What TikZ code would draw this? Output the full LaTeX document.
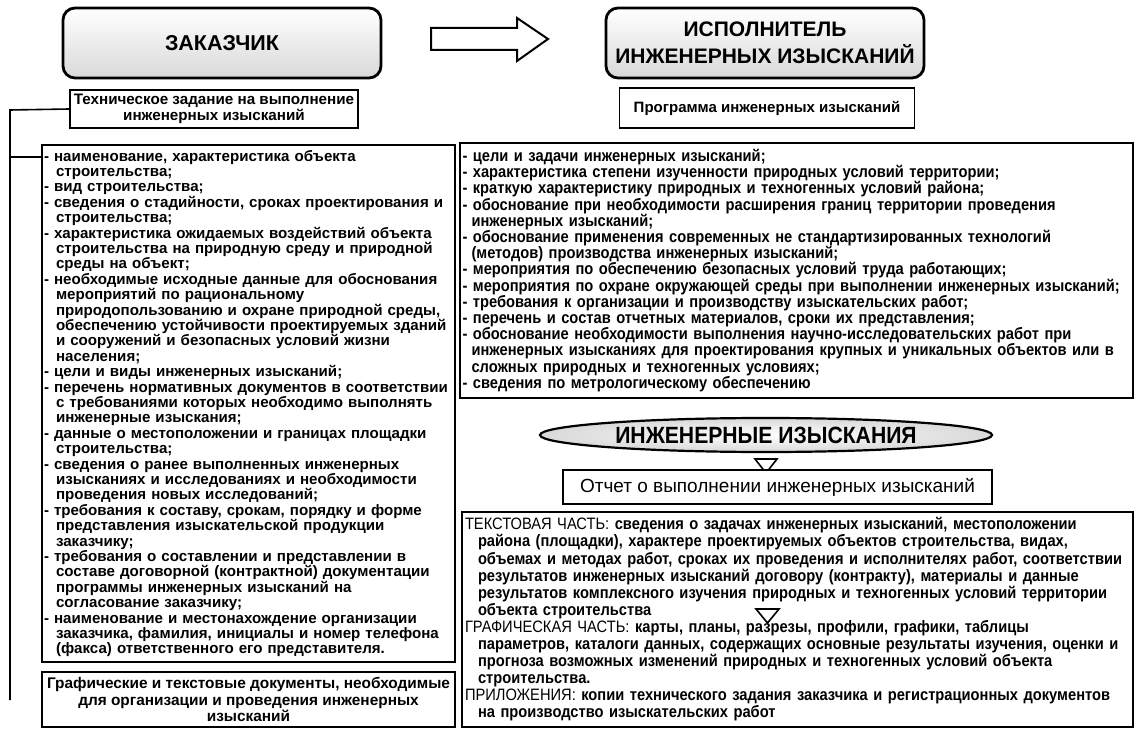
\documentclass[tikz,border=0pt]{standalone}
\usepackage{fontspec}
\setmainfont{Liberation Sans}
\newfontfamily\narrowfont[FakeStretch=0.89]{Liberation Sans}
\newfontfamily\ellfont[FakeStretch=0.9]{Liberation Sans}
\usetikzlibrary{shapes.geometric}
\newcommand\ind{\makebox[12pt]{}}
\newcommand\indr{\makebox[9pt]{}}
\newcommand\indp{\makebox[13pt]{}}
\begin{document}
\begin{tikzpicture}[x=1pt,y=-1pt,
  titlebox/.style={draw, line width=2.8pt, rounded corners=12pt, top color=white, bottom color=gray!30,
    align=center, inner sep=0pt, font=\fontsize{21}{25}\selectfont\bfseries},
  plainbox/.style={draw, line width=1.6pt, fill=white, inner sep=0pt},
  marker/.style={draw, line width=1.6pt, fill=white},
  link/.style={line width=1.6pt}]
\useasboundingbox (0,0) rectangle (1140,735);

% title boxes
\node[titlebox, minimum width=318pt, minimum height=70pt, font=\fontsize{21.5}{25}\selectfont\bfseries] (zak) at (222,43) {ЗАКАЗЧИК};
\node[titlebox, minimum width=318pt, minimum height=70pt] (isp) at (765,43) {ИСПОЛНИТЕЛЬ\\[2pt]ИНЖЕНЕРНЫХ ИЗЫСКАНИЙ};

% hollow arrow
\draw[line width=2pt] (431,28) -- (517,28) -- (517,18) -- (548,39) -- (517,61) -- (517,50) -- (431,50) -- cycle;

% sub-headings
\node[plainbox, minimum width=288pt, minimum height=38pt, align=center,
  font=\fontsize{15.2}{16.5}\selectfont\bfseries] (tz) at (214,109)
  {Техническое задание на выполнение\\инженерных изысканий};
\node[plainbox, minimum width=295pt, minimum height=40pt, align=center,
  font=\fontsize{15}{17}\selectfont\bfseries] (prog) at (767,108)
  {Программа инженерных изысканий};

% left list
\node[plainbox, minimum width=413pt, minimum height=517pt, text width=409pt, align=left,
  font=\fontsize{15.1}{15.4}\selectfont\bfseries] (lst) at (248.5,403.5)
{- наименование, характеристика объекта\\
\ind строительства;\\
- вид строительства;\\
- сведения о стадийности, сроках проектирования и\\
\ind строительства;\\
- характеристика ожидаемых воздействий объекта\\
\ind строительства на природную среду и природной\\
\ind среды на объект;\\
- необходимые исходные данные для обоснования\\
\ind мероприятий по рациональному\\
\ind природопользованию и охране природной среды,\\
\ind обеспечению устойчивости проектируемых зданий\\
\ind и сооружений и безопасных условий жизни\\
\ind населения;\\
- цели и виды инженерных изысканий;\\
- перечень нормативных документов в соответствии\\
\ind с требованиями которых необходимо выполнять\\
\ind инженерные изыскания;\\
- данные о местоположении и границах площадки\\
\ind строительства;\\
- сведения о ранее выполненных инженерных\\
\ind изысканиях и исследованиях и необходимости\\
\ind проведения новых исследований;\\
- требования к составу, срокам, порядку и форме\\
\ind представления изыскательской продукции\\
\ind заказчику;\\
- требования о составлении и представлении в\\
\ind составе договорной (контрактной) документации\\
\ind программы инженерных изысканий на\\
\ind согласование заказчику;\\
- наименование и местонахождение организации\\
\ind заказчика, фамилия, инициалы и номер телефона\\
\ind (факса) ответственного его представителя.};

\node[plainbox, minimum width=413pt, minimum height=55pt, align=center,
  font=\fontsize{15.4}{16.5}\selectfont\bfseries] (gr) at (248.5,699.5)
  {Графические и текстовые документы, необходимые\\для организации и проведения инженерных\\изысканий};

% bracket connector
\coordinate (c1) at (10,110);
\coordinate (c2) at (10,157);
\coordinate (c3) at (10,700);
\draw[link] (tz.west) -- (c1) -- (c3);
\draw[link] (c2) -- (c2 -| lst.west);

% right list
\node[plainbox, minimum width=673pt, minimum height=255pt, text width=668pt, align=left,
  font=\narrowfont\fontsize{16.5}{16.2}\selectfont\bfseries] (plst) at (796.5,270.5)
{- цели и задачи инженерных изысканий;\\
- характеристика степени изученности природных условий территории;\\
- краткую характеристику природных и техногенных условий района;\\
- обоснование при необходимости расширения границ территории проведения\\
\indr инженерных изысканий;\\
- обоснование применения современных не стандартизированных технологий\\
\indr (методов) производства инженерных изысканий;\\
- мероприятия по обеспечению безопасных условий труда работающих;\\
- мероприятия по охране окружающей среды при выполнении инженерных изысканий;\\
- требования к организации и производству изыскательских работ;\\
- перечень и состав отчетных материалов, сроки их представления;\\
- обоснование необходимости выполнения научно-исследовательских работ при\\
\indr инженерных изысканиях для проектирования крупных и уникальных объектов или в\\
\indr сложных природных и техногенных условиях;\\
- сведения по метрологическому обеспечению};

% ellipse
\node[draw, ellipse, line width=2.2pt, minimum width=452pt, minimum height=34pt, inner sep=0pt,
  inner color=white, outer color=gray!30,
  font=\ellfont\fontsize{23.5}{26}\selectfont\bfseries] (ii) at (766,435) {ИНЖЕНЕРНЫЕ ИЗЫСКАНИЯ};

\draw[marker] (755,459) -- (777,459) -- (766,473) -- cycle;

\node[plainbox, minimum width=429pt, minimum height=34pt,
  font=\fontsize{19}{22}\selectfont] (ot) at (777.5,487) {Отчет о выполнении инженерных изысканий};

% report contents
\node[plainbox, minimum width=671pt, minimum height=215pt, text width=665pt, align=left,
  font=\narrowfont\fontsize{16.5}{17.1}\selectfont\bfseries] (rep) at (797.5,619.5)
{{\mdseries ТЕКСТОВАЯ ЧАСТЬ:} сведения о задачах инженерных изысканий, местоположении\\
\indp района (площадки), характере проектируемых объектов строительства, видах,\\
\indp объемах и методах работ, сроках их проведения и исполнителях работ, соответствии\\
\indp результатов инженерных изысканий договору (контракту), материалы и данные\\
\indp результатов комплексного изучения природных и техногенных условий территории\\
\indp объекта строительства\\
{\mdseries ГРАФИЧЕСКАЯ ЧАСТЬ:} карты, планы, разрезы, профили, графики, таблицы\\
\indp параметров, каталоги данных, содержащих основные результаты изучения, оценки и\\
\indp прогноза возможных изменений природных и техногенных условий объекта\\
\indp строительства.\\
{\mdseries ПРИЛОЖЕНИЯ:} копии технического задания заказчика и регистрационных документов\\
\indp на производство изыскательских работ};

\draw[line width=1.6pt] (756,609) -- (779,609) -- (767.5,623) -- cycle;
\end{tikzpicture}
\end{document}
